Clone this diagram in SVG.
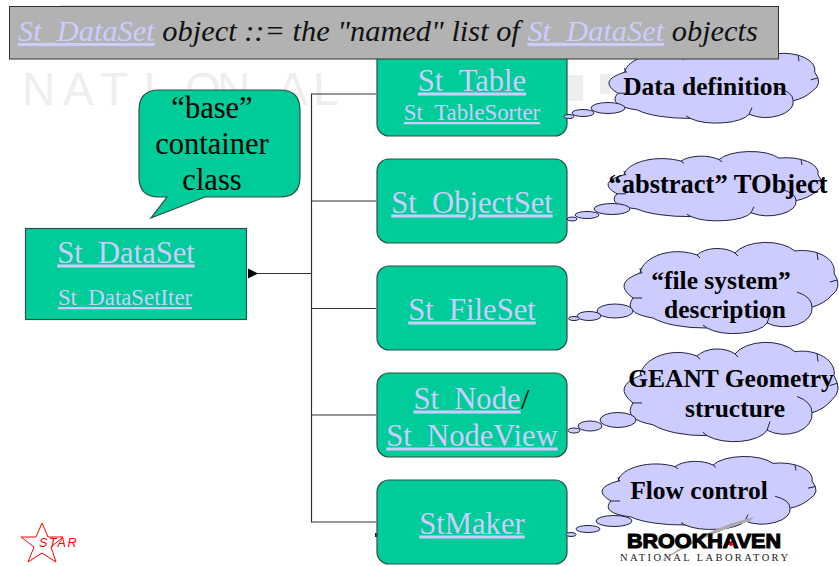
<svg xmlns="http://www.w3.org/2000/svg" xmlns:xlink="http://www.w3.org/1999/xlink" width="839" height="566" viewBox="0 0 839 566">
<style>
text{font-family:"Liberation Serif","Times New Roman",serif}
.node{fill:#00cc99;stroke:#2f4f47;stroke-width:1.2}
.link{fill:#ccccff;font-size:30.600px;text-decoration:underline;text-anchor:middle}
.small{font-size:22.800px}
.cl{fill:#ccccff;stroke:#222244;stroke-width:1}
.ct{fill:#000;font-weight:bold;font-size:25.500px;text-anchor:middle}
.conn{fill:none;stroke:#333;stroke-width:1.2}
.bk{fill:#000;font-size:30.500px;text-anchor:middle}
</style>
<defs>
<g id="cloud">
<path vector-effect="non-scaling-stroke" d="M20,30A38,24 0 0 1 77,12A24,14 0 0 1 115,10A34,18 0 0 1 175,8A32,20 0 0 1 214,30Q223,44 212,52Q204,61 192,64A28,18 0 0 1 147,80A34,14 0 0 1 87,85A60,20 0 0 1 33,75Q2,70 13,55Q-8,40 20,30Z"/>
<path vector-effect="non-scaling-stroke" fill="none" d="M77,12L80,15M115,10L118,13M197,10L198,17M210,39L217,37M192,64Q192,54 177,49M147,80L150,72M87,85L83,82M13,55L22,55M20,30L22,30Q20,28 20,25"/>
</g>
<marker id="ah" markerWidth="11" markerHeight="11" refX="10" refY="5.500" orient="auto" markerUnits="userSpaceOnUse"><path d="M0,5.500L10,0.500V10.500Z" fill="#000"/></marker>
</defs>
<rect width="839" height="566" fill="#fff"/>
<g id="watermark" fill="#e9e9e9">
<text y="105" x="22 63 100 143 185 217 277 313" style="font-family:'Liberation Sans',sans-serif;font-size:46px" fill="#eeeeee">NATIONAL</text>
<rect x="567" y="75" width="16" height="26" fill="#eeeeee"/><rect x="600" y="74" width="10" height="20" fill="#eeeeee"/>
<rect x="60" y="5" width="700" height="1.500" fill="#dddddd"/>
</g>
<g id="connectors">
<path class="conn" d="M376,94H311.500V522H376M311.500,201H376M311.500,308.500H376M311.500,415H376"/>
<path class="conn" d="M311,273.500H248" marker-end="url(#ah)"/>
<rect x="375" y="533" width="2" height="4" fill="#222"/>
</g>
<g id="n-base"><path class="node" d="M159,90H280Q300,90 300,110V177Q300,197 280,197H205L151,218L167,197H159Q139,197 139,177V110Q139,90 159,90Z"/>
<text class="bk" x="212" y="118">“base”</text><text class="bk" x="212" y="154">container</text><text class="bk" x="212" y="190">class</text></g>
<g id="n-dataset"><rect class="node" x="25.500" y="228.500" width="221" height="91"/>
<text class="link" x="126" y="262.500">St_DataSet</text><text class="link small" x="125" y="305">St_DataSetIter</text></g>
<g id="n-table"><rect class="node" x="377" y="40" width="190" height="96" rx="12"/>
<text class="link" x="472" y="90.500">St_Table</text><text class="link small" x="472" y="120">St_TableSorter</text></g>
<g id="n-objectset"><rect class="node" x="377" y="159" width="190" height="84" rx="12"/><text class="link" x="472" y="212.500">St_ObjectSet</text></g>
<g id="n-fileset"><rect class="node" x="377" y="266" width="190" height="84" rx="12"/><text class="link" x="472" y="319.500">St_FileSet</text></g>
<g id="n-node"><rect class="node" x="377" y="373" width="190" height="84" rx="12"/>
<text x="467" y="408.500" class="link">St_Node</text><text x="521" y="408.500" style="font-size:30px">/</text><text class="link" x="472" y="445.500">St_NodeView</text></g>
<g id="n-maker"><rect class="node" x="377" y="480" width="190" height="84" rx="12"/><text class="link" x="472" y="533.500">StMaker</text></g>
<g id="c-data">
<use href="#cloud" class="cl" transform="translate(605,47) scale(.98,.84)"/>
<ellipse class="cl" cx="608" cy="108" rx="17" ry="5.500"/><ellipse class="cl" cx="583" cy="113" rx="11" ry="3.500"/><ellipse class="cl" cx="569" cy="116.500" rx="5" ry="2"/>
<text class="ct" x="705" y="95">Data definition</text></g>
<g id="c-abstract">
<use href="#cloud" class="cl" transform="translate(604,152) scale(1,.76)"/>
<ellipse class="cl" cx="612" cy="209" rx="18" ry="5.500"/><ellipse class="cl" cx="587" cy="215" rx="12" ry="3.500"/><ellipse class="cl" cx="572" cy="219" rx="5" ry="2"/>
<text class="ct" x="718" y="193" style="font-size:26.500px">“abstract” TObject</text></g>
<g id="c-file">
<use href="#cloud" class="cl" transform="translate(620,243)"/>
<ellipse class="cl" cx="615" cy="311" rx="18" ry="7"/><ellipse class="cl" cx="589" cy="316" rx="12" ry="4.500"/><ellipse class="cl" cx="574" cy="318.500" rx="5.500" ry="2"/>
<text class="ct" x="721" y="289">“file system”</text><text class="ct" x="725" y="318">description</text></g>
<g id="c-geant">
<use href="#cloud" class="cl" transform="translate(620,343) scale(1,1.09)"/>
<ellipse class="cl" cx="618" cy="420" rx="18" ry="7.500"/><ellipse class="cl" cx="590" cy="426" rx="12" ry="5"/><ellipse class="cl" cx="574" cy="430.500" rx="6" ry="2.500"/>
<text class="ct" x="731" y="387">GEANT Geometry</text><text class="ct" x="735" y="417">structure</text></g>
<g id="c-flow">
<use href="#cloud" class="cl" transform="translate(598,457) scale(1,.8)"/>
<ellipse class="cl" cx="614" cy="521" rx="18" ry="5.500"/><ellipse class="cl" cx="588" cy="529" rx="12" ry="3.500"/><ellipse class="cl" cx="571" cy="534.500" rx="5" ry="2"/>
<text class="ct" x="699" y="499">Flow control</text></g>
<g id="title"><rect x="9.500" y="6.500" width="769" height="52.500" fill="#b2b2b2" stroke="#333" stroke-width="1"/>
<text x="18" y="41" style="font-size:30.400px;font-style:italic;fill:#111"><tspan fill="#ccccff" text-decoration="underline">St_DataSet</tspan> object ::= the "named" list of <tspan fill="#ccccff" text-decoration="underline">St_DataSet</tspan> objects</text></g>
<g id="logo-star" fill="none" stroke="#ff0000" stroke-width="1">
<path d="M42,523L48,537H63L51,547L56,562L42,553L28,562L34,547L21,537H36Z"/>
<text x="39" y="547" style="font-family:'Liberation Sans',sans-serif;font-size:12.500px;font-style:italic;letter-spacing:1.700px" fill="#ff0000" stroke="none">STAR</text></g>
<g id="logo-bnl">
<path d="M754,517Q705,528 657,564Q705,534 750,521Z" fill="#aaaaaa"/>
<text x="627" y="548" style="font-family:'Liberation Sans',sans-serif;font-size:21px;font-weight:bold" stroke="#000" stroke-width="1.200" textLength="154" lengthAdjust="spacingAndGlyphs">BROOKHAVEN</text>
<circle cx="731" cy="544" r="2" fill="#ff0000"/>
<text x="620" y="561" style="font-size:10.500px" textLength="168" fill="#222">NATIONAL LABORATORY</text></g>
</svg>
